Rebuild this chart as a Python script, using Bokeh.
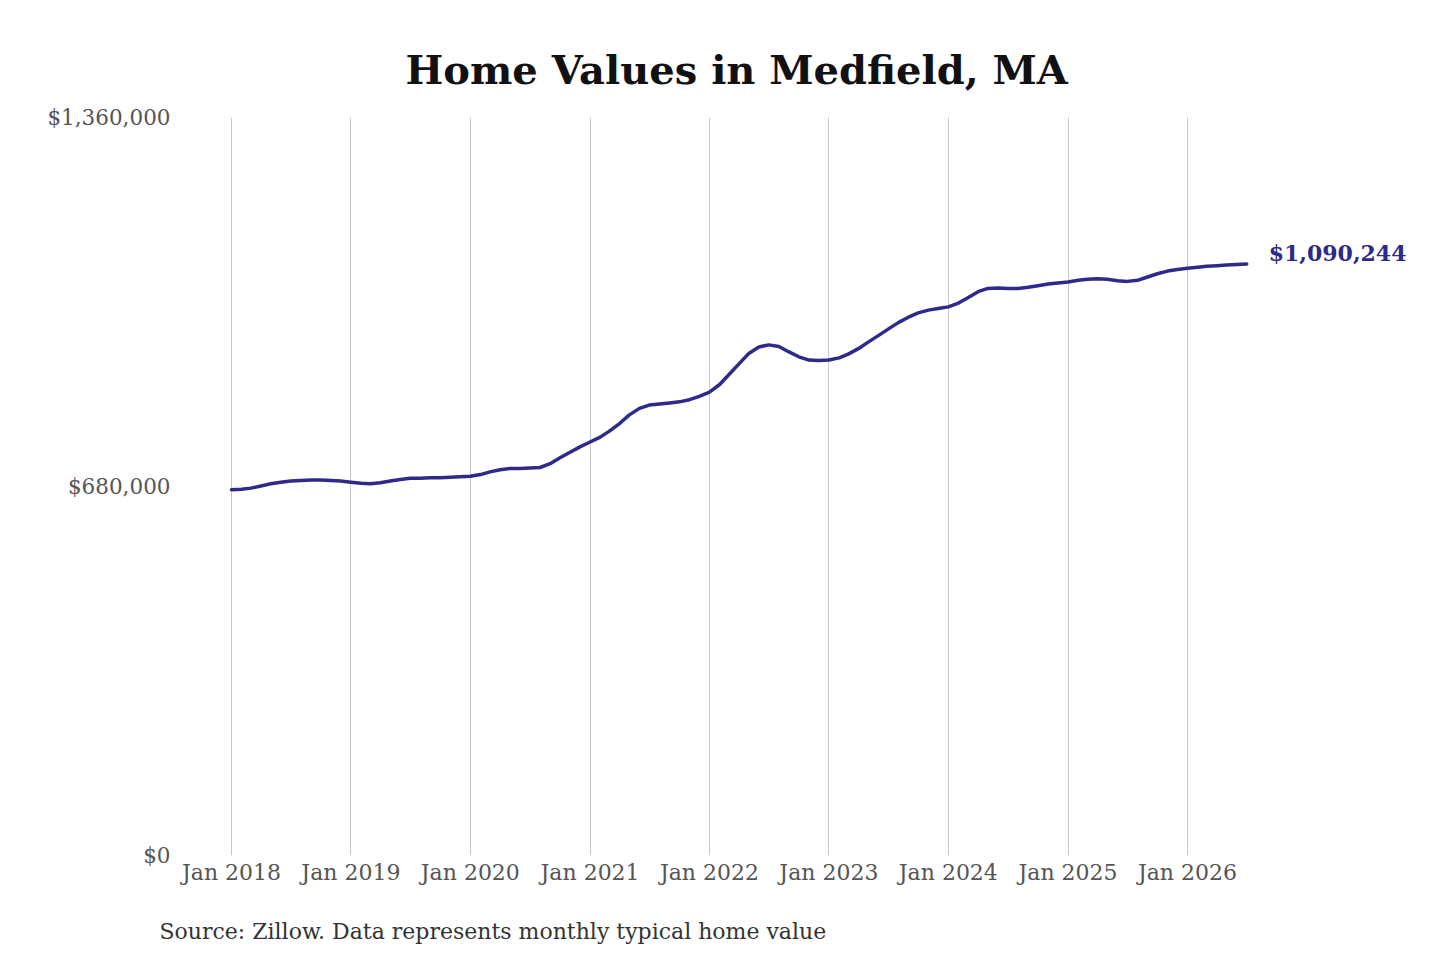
from datetime import datetime, timedelta
from bokeh.plotting import figure
from bokeh.models import (FixedTicker, NumeralTickFormatter, DatetimeTickFormatter,
                          Label, Range1d, ColumnDataSource, Title)
from bokeh.embed import file_html
from bokeh.resources import INLINE

# ---- data (typical home value, USD, monthly, Jan 2018 .. Jul 2026) ----
values_2018 = [674000, 675000, 677000, 681000, 685000, 688000, 690000, 691000, 692000, 692000, 691000, 690000]
values_2019 = [688000, 686000, 685000, 687000, 690000, 693000, 695000, 695000, 696000, 696000, 697000, 698000]
values_2020 = [699000, 702000, 707000, 711000, 713000, 713000, 714000, 715000, 722000, 733000, 743000, 753000]
values_2021 = [762000, 771000, 782000, 796000, 812000, 824000, 830000, 832000, 834000, 836000, 840000, 846000]
values_2022 = [854000, 868000, 886000, 906000, 925000, 937000, 941000, 938000, 928000, 919000, 913000, 912000]
values_2023 = [913000, 917000, 924000, 934000, 946000, 958000, 970000, 982000, 992000, 1000000, 1005000, 1008000]
values_2024 = [1011000, 1018000, 1028000, 1039000, 1045000, 1046000, 1045000, 1045000, 1047000, 1050000, 1053000, 1055000]
values_2025 = [1057000, 1060000, 1062000, 1063000, 1062000, 1059000, 1058000, 1060000, 1066000, 1072000, 1077000, 1080000]
values_2026 = [1082000, 1084000, 1086000, 1087000, 1088000, 1089000, 1090244]

tick_years = [2018, 2019, 2020, 2021, 2022, 2023, 2024, 2025, 2026]
y_ticks = [0, 680000, 1360000]

title_text = "Home Values in Medfield, MA"
source_text = "Source: Zillow. Data represents monthly typical home value"
end_label_text = "$1,090,244"

values = (values_2018 + values_2019 + values_2020 + values_2021 + values_2022 +
          values_2023 + values_2024 + values_2025 + values_2026)
dates = [datetime(2018 + i // 12, 1 + i % 12, 1) for i in range(len(values))]

def ms(dt):
    return (dt - datetime(1970, 1, 1)).total_seconds() * 1000.0

LINE_COLOR = "#2d2a8a"
FONT = "DejaVu Serif"

W, H = 1424, 960
p = figure(width=W, height=H, output_backend="svg", toolbar_location=None,
           x_axis_type="datetime",
           x_range=Range1d(datetime(2018, 1, 1) - timedelta(days=140.6),
                           datetime(2018, 1, 1) + timedelta(days=3634.2)),
           y_range=Range1d(0, 1360000),
           min_border_left=185, min_border_right=4,
           min_border_top=117, min_border_bottom=105)
p.outline_line_color = None
p.background_fill_color = "white"
p.border_fill_color = "white"

src = ColumnDataSource(dict(date=dates, value=values))
p.line("date", "value", source=src, line_color=LINE_COLOR, line_width=3.5,
       line_join="round", line_cap="round")

# x axis
xt = FixedTicker(ticks=[ms(datetime(y, 1, 1)) for y in tick_years])
p.xaxis.ticker = xt
fmt = "%b %Y"
p.xaxis.formatter = DatetimeTickFormatter(
    microseconds=fmt, milliseconds=fmt, seconds=fmt, minsec=fmt, minutes=fmt,
    hourmin=fmt, hours=fmt, days=fmt, months=fmt, years=fmt)
p.xaxis.axis_line_color = None
p.xaxis.major_tick_line_color = None
p.xaxis.minor_tick_line_color = None
p.xaxis.major_tick_out = 0
p.xaxis.major_tick_in = 0
p.xaxis.major_label_standoff = 4
p.xaxis.major_label_text_font = FONT
p.xaxis.major_label_text_font_size = "22px"
p.xaxis.major_label_text_color = "#555555"
# blank axis label used only as vertical spacing before the source note
p.xaxis.axis_label = " "
p.xaxis.axis_label_text_font_size = "10px"
p.xaxis.axis_label_standoff = 10

# y axis
p.yaxis.ticker = FixedTicker(ticks=y_ticks)
p.yaxis.formatter = NumeralTickFormatter(format="$0,0")
p.yaxis.axis_line_color = None
p.yaxis.major_tick_line_color = None
p.yaxis.minor_tick_line_color = None
p.yaxis.major_tick_out = 0
p.yaxis.major_tick_in = 0
p.yaxis.major_label_standoff = 15
p.yaxis.major_label_text_font = FONT
p.yaxis.major_label_text_font_size = "21.5px"
p.yaxis.major_label_text_color = "#555555"

# grid
p.xgrid.ticker = xt
p.xgrid.grid_line_color = "#c8c8c8"
p.xgrid.grid_line_width = 1
p.ygrid.grid_line_color = None

# title
p.title = Title(text=title_text, align="left", offset=220, standoff=50,
                text_font=FONT, text_font_size="40px", text_font_style="bold",
                text_color="#111111")
# source note
p.add_layout(Title(text=source_text, align="left", offset=-26, standoff=10,
                   text_font=FONT, text_font_size="22px", text_font_style="normal",
                   text_color="#333333"), "below")
# end value label
p.add_layout(Label(x=dates[-1], y=values[-1], x_offset=22, y_offset=11, text=end_label_text,
                   text_font=FONT, text_font_size="22px", text_font_style="bold",
                   text_color=LINE_COLOR, text_align="left", text_baseline="middle"))

open("out.html", "w").write(file_html(p, INLINE))
